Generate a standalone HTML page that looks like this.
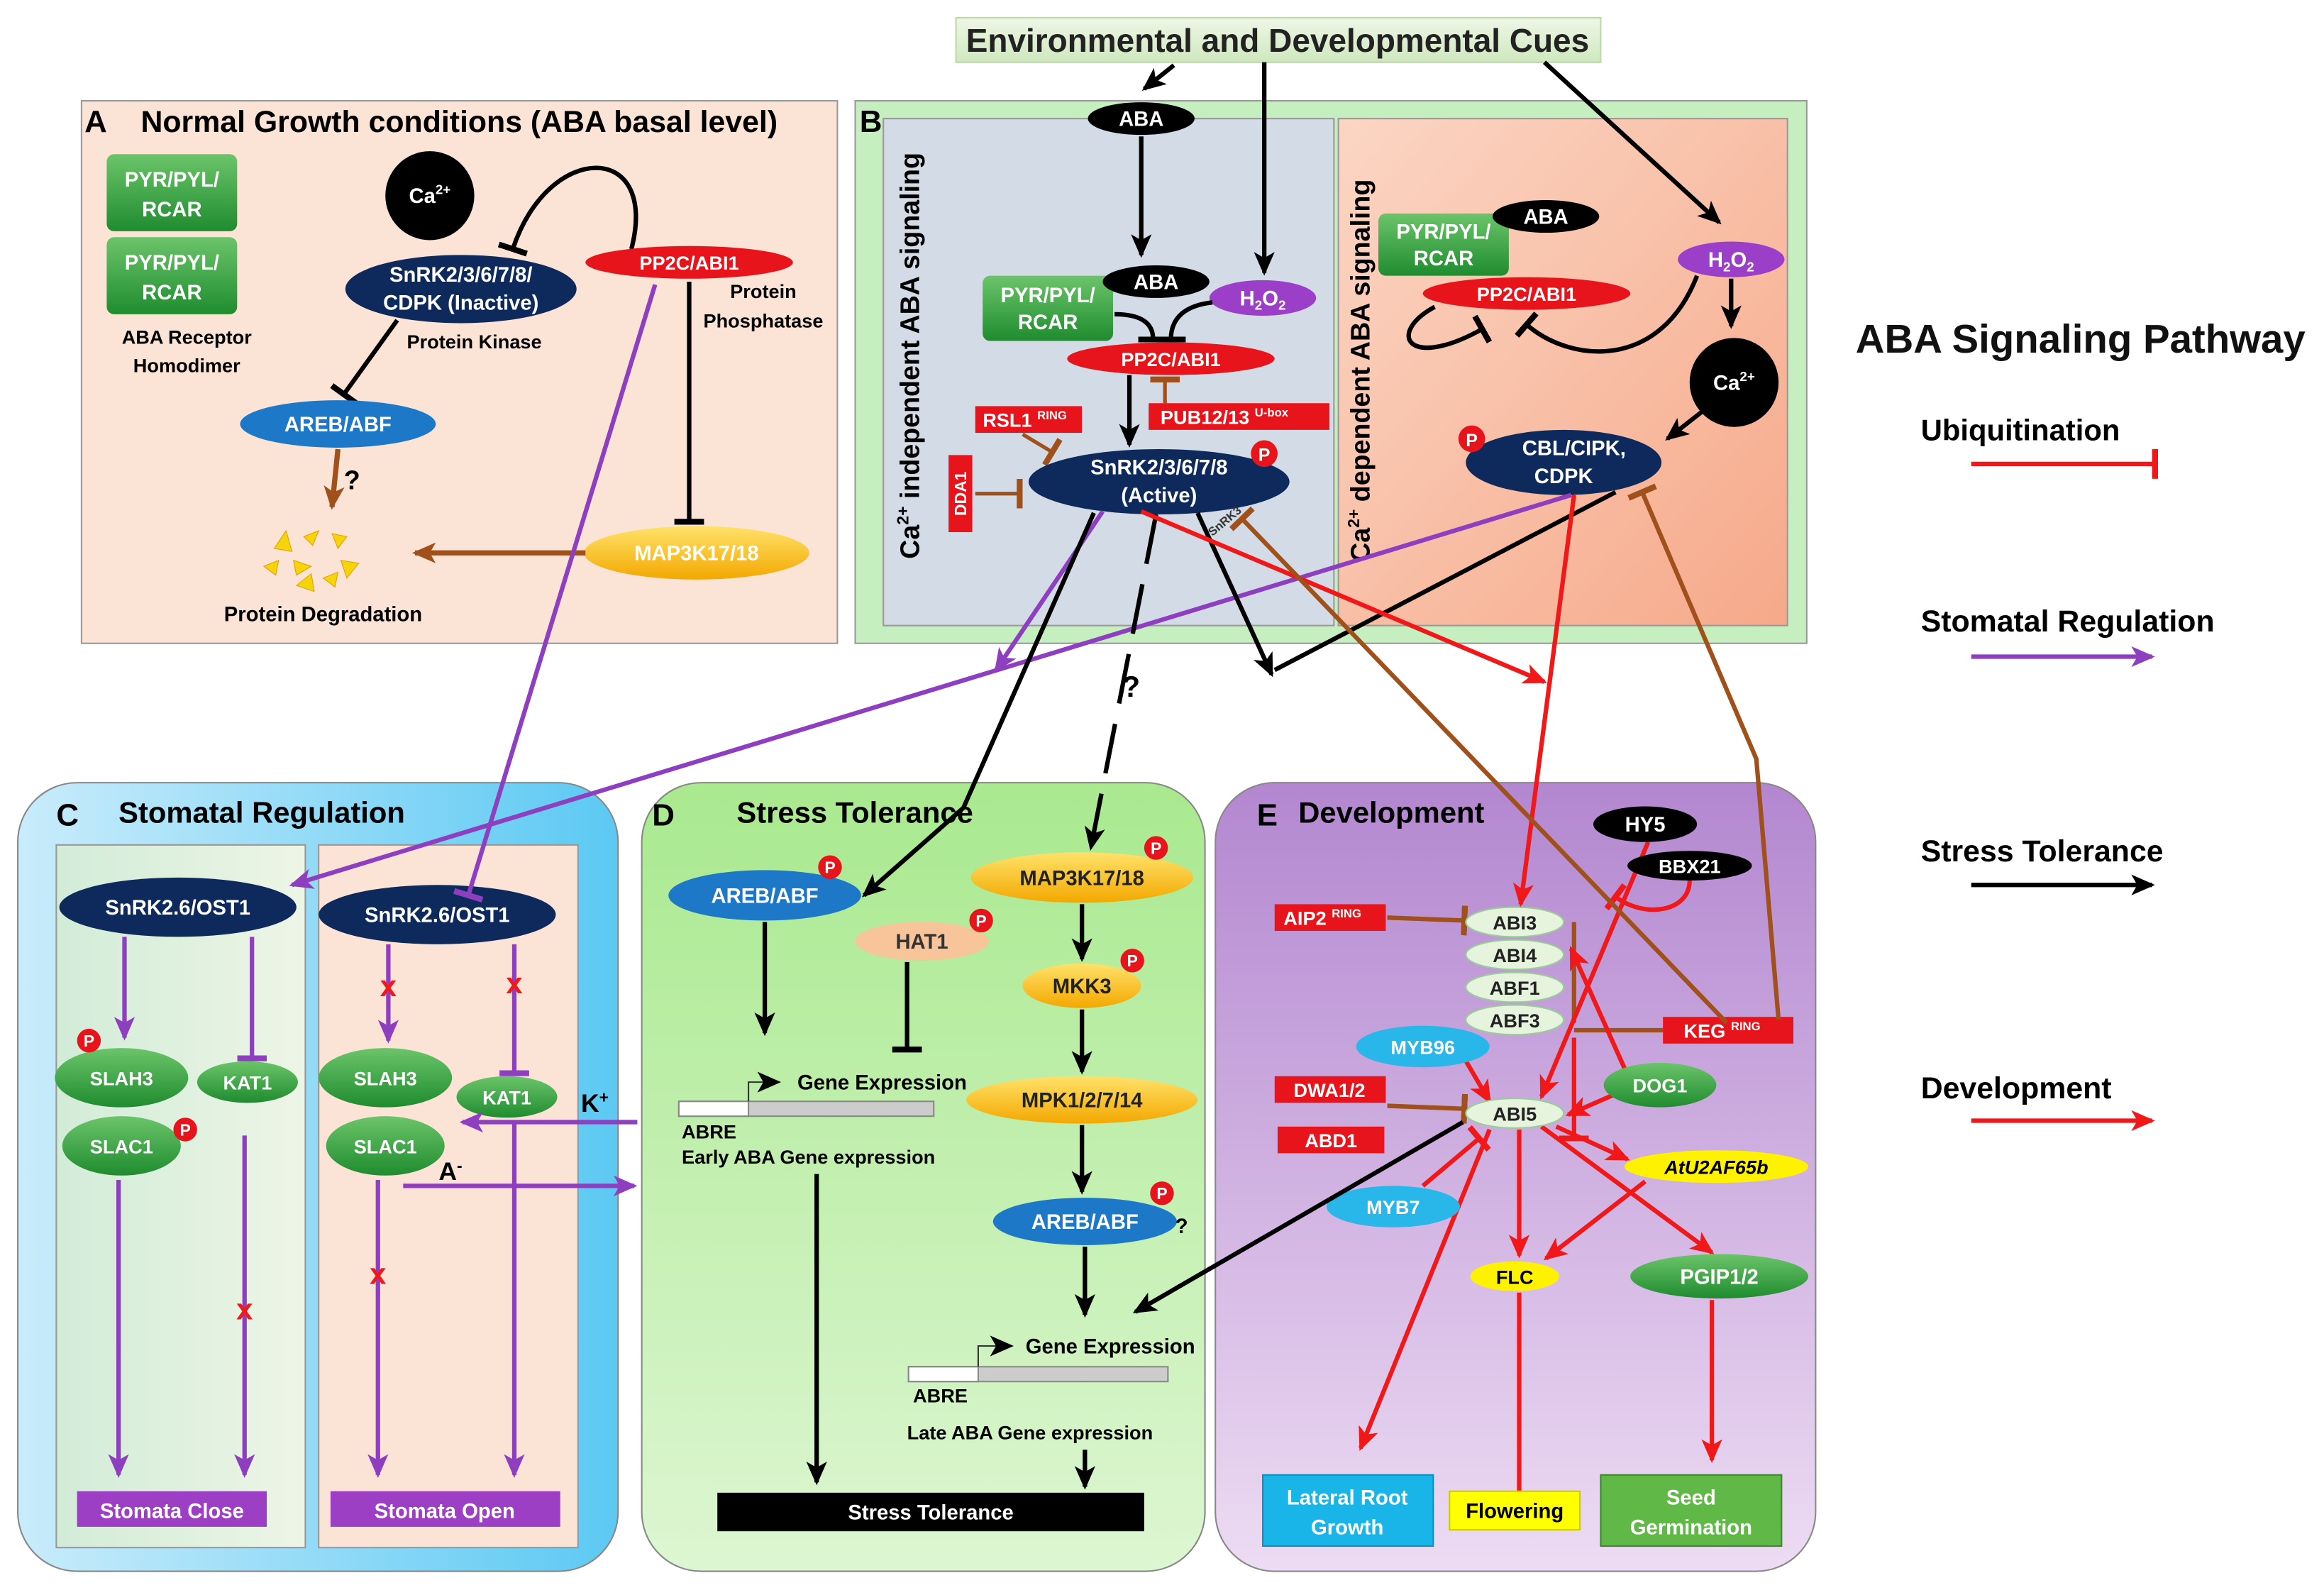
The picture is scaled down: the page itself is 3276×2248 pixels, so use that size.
<!DOCTYPE html>
<html><head><meta charset="utf-8"><style>
html,body{margin:0;padding:0;background:#fff}
svg{display:block}
text{font-family:"Liberation Sans",sans-serif;font-weight:bold}
</style></head><body>
<svg width="3276" height="2248" viewBox="0 0 1568 1076" preserveAspectRatio="none" xmlns="http://www.w3.org/2000/svg">
<defs>
<marker id="ak" markerUnits="userSpaceOnUse" markerWidth="16" markerHeight="14" refX="14" refY="7" orient="auto"><path d="M0,0 L16,7 L0,14 L4,7 z" fill="#000"/></marker>
<marker id="ar" markerUnits="userSpaceOnUse" markerWidth="16" markerHeight="14" refX="14" refY="7" orient="auto"><path d="M0,0 L16,7 L0,14 L4,7 z" fill="#f01818"/></marker>
<marker id="ap" markerUnits="userSpaceOnUse" markerWidth="16" markerHeight="14" refX="14" refY="7" orient="auto"><path d="M0,0 L16,7 L0,14 L4,7 z" fill="#8e3fc0"/></marker>
<marker id="ab" markerUnits="userSpaceOnUse" markerWidth="16" markerHeight="14" refX="14" refY="7" orient="auto"><path d="M0,0 L16,7 L0,14 L4,7 z" fill="#a0501a"/></marker>
<marker id="tk" markerUnits="userSpaceOnUse" markerWidth="4" markerHeight="20" refX="2" refY="10" orient="auto"><rect x="0" y="0" width="4" height="20" fill="#000"/></marker>
<marker id="tr" markerUnits="userSpaceOnUse" markerWidth="4" markerHeight="20" refX="2" refY="10" orient="auto"><rect x="0" y="0" width="4" height="20" fill="#f01818"/></marker>
<marker id="tp" markerUnits="userSpaceOnUse" markerWidth="4" markerHeight="20" refX="2" refY="10" orient="auto"><rect x="0" y="0" width="4" height="20" fill="#8e3fc0"/></marker>
<marker id="tb" markerUnits="userSpaceOnUse" markerWidth="4" markerHeight="20" refX="2" refY="10" orient="auto"><rect x="0" y="0" width="4" height="20" fill="#a0501a"/></marker>
<linearGradient id="gB" x1="0" y1="0" x2="1" y2="1"><stop offset="0" stop-color="#fbd6c4"/><stop offset="1" stop-color="#f6a98a"/></linearGradient>
<linearGradient id="gC" x1="0" y1="0" x2="1" y2="0"><stop offset="0" stop-color="#c9ecfb"/><stop offset="1" stop-color="#5cc9f3"/></linearGradient>
<linearGradient id="gCl" x1="0" y1="0" x2="1" y2="0"><stop offset="0" stop-color="#d2ecd8"/><stop offset="1" stop-color="#edf5e6"/></linearGradient>
<linearGradient id="gD" x1="0" y1="0" x2="0" y2="1"><stop offset="0" stop-color="#a9e98f"/><stop offset="1" stop-color="#ddf6d2"/></linearGradient>
<linearGradient id="gE" x1="0" y1="0" x2="0" y2="1"><stop offset="0" stop-color="#b387d0"/><stop offset="1" stop-color="#eddcf3"/></linearGradient>
<linearGradient id="gY" x1="0" y1="0" x2="0" y2="1"><stop offset="0" stop-color="#ffe26a"/><stop offset="1" stop-color="#f3a800"/></linearGradient>
<linearGradient id="gG" x1="0" y1="0" x2="0" y2="1"><stop offset="0" stop-color="#6cc46a"/><stop offset="1" stop-color="#1f8c2f"/></linearGradient>
<linearGradient id="gCue" x1="0" y1="0" x2="0" y2="1"><stop offset="0" stop-color="#eef7e6"/><stop offset="1" stop-color="#cfe8bf"/></linearGradient>
</defs>

<!-- Top cue -->
<rect x="645" y="12" width="435" height="30" fill="url(#gCue)" stroke="#bcd8a8"/>
<text x="862" y="35" font-size="22" text-anchor="middle" fill="#222">Environmental and Developmental Cues</text>

<!-- Panel A -->
<rect x="55" y="68" width="510" height="366" fill="#fbe3d6" stroke="#999"/>
<text x="57" y="89" font-size="21">A</text>
<text x="95" y="89" font-size="20.5">Normal Growth conditions (ABA basal level)</text>
<rect x="72" y="104" width="88" height="52" rx="5" fill="url(#gG)"/>
<text x="116" y="126" font-size="14" fill="#fff" text-anchor="middle">PYR/PYL/</text><text x="116" y="146" font-size="14" fill="#fff" text-anchor="middle">RCAR</text>
<rect x="72" y="160" width="88" height="52" rx="5" fill="url(#gG)"/>
<text x="116" y="182" font-size="14" fill="#fff" text-anchor="middle">PYR/PYL/</text><text x="116" y="202" font-size="14" fill="#fff" text-anchor="middle">RCAR</text>
<text x="126" y="232" font-size="13" text-anchor="middle">ABA Receptor</text><text x="126" y="251" font-size="13" text-anchor="middle">Homodimer</text>
<circle cx="290" cy="132" r="30" fill="#000"/><text x="290" y="137" font-size="14" fill="#fff" text-anchor="middle">Ca<tspan font-size="9" dy="-6">2+</tspan></text>
<path d="M426,168 C445,95 370,95 346,168" fill="none" stroke="#000" stroke-width="3" marker-end="url(#tk)"/>
<ellipse cx="311" cy="195" rx="78" ry="23" fill="#0e2a5c"/>
<text x="311" y="190" font-size="14" fill="#fff" text-anchor="middle">SnRK2/3/6/7/8/</text><text x="311" y="209" font-size="14" fill="#fff" text-anchor="middle">CDPK (Inactive)</text>
<text x="320" y="235" font-size="13" text-anchor="middle">Protein Kinase</text>
<ellipse cx="465" cy="177" rx="70" ry="11" fill="#e8141c"/><text x="465" y="182" font-size="13" fill="#fff" text-anchor="middle">PP2C/ABI1</text>
<text x="515" y="201" font-size="13" text-anchor="middle">Protein</text><text x="515" y="221" font-size="13" text-anchor="middle">Phosphatase</text>
<line x1="268" y1="216" x2="232" y2="266" stroke="#000" stroke-width="3" marker-end="url(#tk)"/>
<ellipse cx="228" cy="286" rx="66" ry="16" fill="#1d78c8"/><text x="228" y="291" font-size="14" fill="#fff" text-anchor="middle">AREB/ABF</text>
<line x1="228" y1="303" x2="224" y2="342" stroke="#a0501a" stroke-width="3.5" marker-end="url(#ab)"/>
<text x="232" y="330" font-size="18">?</text>
<g fill="#f6d40a" stroke="#e0a000" stroke-width="0.5">
<path d="M185,370 l8,-12 l4,14z"/><path d="M205,362 l10,-4 l-4,10z"/><path d="M224,360 l10,2 l-6,8z"/><path d="M178,382 l10,-4 l-2,10z"/><path d="M198,378 l12,4 l-10,6z"/><path d="M230,378 l12,2 l-8,10z"/><path d="M200,395 l10,-8 l2,12z"/><path d="M218,390 l10,-4 l-2,10z"/>
</g>
<text x="218" y="419" font-size="14" text-anchor="middle">Protein Degradation</text>
<line x1="465" y1="190" x2="465" y2="352" stroke="#000" stroke-width="3" marker-end="url(#tk)"/>
<ellipse cx="470" cy="373" rx="76" ry="18" fill="url(#gY)"/><text x="470" y="378" font-size="14" fill="#fff" text-anchor="middle">MAP3K17/18</text>
<line x1="395" y1="373" x2="280" y2="373" stroke="#a0501a" stroke-width="3.5" marker-end="url(#ab)"/>

<!-- Panel B -->
<rect x="577" y="68" width="642" height="366" fill="#c6efc0" stroke="#999"/>
<rect x="596" y="80" width="304" height="342" fill="#d3dce6" stroke="#999"/>
<rect x="903" y="80" width="303" height="342" fill="url(#gB)" stroke="#999"/>
<text x="580" y="89" font-size="21">B</text>
<line x1="792" y1="44" x2="772" y2="60" stroke="#000" stroke-width="3" marker-end="url(#ak)"/>
<line x1="853" y1="42" x2="853" y2="184" stroke="#000" stroke-width="3" marker-end="url(#ak)"/>
<line x1="1042" y1="42" x2="1160" y2="150" stroke="#000" stroke-width="3" marker-end="url(#ak)"/>
<ellipse cx="770" cy="80" rx="36" ry="11" fill="#000"/><text x="770" y="85" font-size="14" fill="#fff" text-anchor="middle">ABA</text>
<line x1="770" y1="92" x2="770" y2="172" stroke="#000" stroke-width="3" marker-end="url(#ak)"/>
<text transform="translate(620,240) rotate(-90)" font-size="18" text-anchor="middle">Ca<tspan font-size="11" dy="-7">2+</tspan><tspan dy="7"> independent ABA signaling</tspan></text>
<rect x="663" y="186" width="88" height="44" rx="5" fill="url(#gG)"/>
<text x="707" y="204" font-size="14" fill="#fff" text-anchor="middle">PYR/PYL/</text><text x="707" y="222" font-size="14" fill="#fff" text-anchor="middle">RCAR</text>
<ellipse cx="780" cy="190" rx="36" ry="11" fill="#000"/><text x="780" y="195" font-size="14" fill="#fff" text-anchor="middle">ABA</text>
<ellipse cx="852" cy="201" rx="36" ry="12" fill="#9b3fc8"/><text x="852" y="206" font-size="14" fill="#fff" text-anchor="middle">H<tspan font-size="9" dy="3">2</tspan><tspan dy="-3">O</tspan><tspan font-size="9" dy="3">2</tspan></text>
<path d="M752,212 C770,212 778,218 778,229" fill="none" stroke="#000" stroke-width="3" marker-end="url(#tk)"/>
<path d="M818,204 C800,206 790,214 790,229" fill="none" stroke="#000" stroke-width="3" marker-end="url(#tk)"/>
<ellipse cx="790" cy="242" rx="70" ry="11" fill="#e8141c"/><text x="790" y="247" font-size="13" fill="#fff" text-anchor="middle">PP2C/ABI1</text>
<rect x="658" y="274" width="72" height="18" fill="#e8141c"/><text x="663" y="288" font-size="13" fill="#fff">RSL1 <tspan font-size="8" dy="-5">RING</tspan></text>
<line x1="690" y1="293" x2="710" y2="305" stroke="#a0501a" stroke-width="2.5" marker-end="url(#tb)"/>
<rect x="775" y="272" width="122" height="18" fill="#e8141c"/><text x="783" y="286" font-size="13" fill="#fff">PUB12/13 <tspan font-size="8" dy="-5">U-box</tspan></text>
<line x1="786" y1="272" x2="786" y2="256" stroke="#a0501a" stroke-width="2.5" marker-end="url(#tb)"/>
<rect x="640" y="307" width="16" height="52" fill="#e8141c"/><text transform="translate(652,333) rotate(-90)" font-size="11" fill="#fff" text-anchor="middle">DDA1</text>
<line x1="658" y1="333" x2="688" y2="333" stroke="#a0501a" stroke-width="2.5" marker-end="url(#tb)"/>
<line x1="762" y1="253" x2="762" y2="300" stroke="#000" stroke-width="3" marker-end="url(#ak)"/>
<ellipse cx="782" cy="325" rx="88" ry="22" fill="#0e2a5c"/>
<text x="782" y="320" font-size="14" fill="#fff" text-anchor="middle">SnRK2/3/6/7/8</text><text x="782" y="339" font-size="14" fill="#fff" text-anchor="middle">(Active)</text>
<circle cx="853" cy="306" r="9" fill="#e8141c"/><text x="853" y="311" font-size="12" fill="#fff" text-anchor="middle">P</text>
<text transform="translate(924,250) rotate(-90)" font-size="18" text-anchor="middle">Ca<tspan font-size="11" dy="-7">2+</tspan><tspan dy="7"> dependent ABA signaling</tspan></text>
<rect x="930" y="144" width="88" height="42" rx="5" fill="url(#gG)"/>
<text x="974" y="161" font-size="14" fill="#fff" text-anchor="middle">PYR/PYL/</text><text x="974" y="179" font-size="14" fill="#fff" text-anchor="middle">RCAR</text>
<ellipse cx="1043" cy="146" rx="36" ry="11" fill="#000"/><text x="1043" y="151" font-size="14" fill="#fff" text-anchor="middle">ABA</text>
<ellipse cx="1030" cy="198" rx="70" ry="11" fill="#e8141c"/><text x="1030" y="203" font-size="13" fill="#fff" text-anchor="middle">PP2C/ABI1</text>
<ellipse cx="1168" cy="175" rx="36" ry="12" fill="#9b3fc8"/><text x="1168" y="180" font-size="14" fill="#fff" text-anchor="middle">H<tspan font-size="9" dy="3">2</tspan><tspan dy="-3">O</tspan><tspan font-size="9" dy="3">2</tspan></text>
<path d="M968,207 C935,225 950,250 1000,222" fill="none" stroke="#000" stroke-width="3" marker-end="url(#tk)"/>
<path d="M1145,186 C1120,250 1060,245 1030,219" fill="none" stroke="#000" stroke-width="3" marker-end="url(#tk)"/>
<line x1="1168" y1="188" x2="1168" y2="220" stroke="#000" stroke-width="3" marker-end="url(#ak)"/>
<circle cx="1170" cy="258" r="30" fill="#000"/><text x="1170" y="263" font-size="14" fill="#fff" text-anchor="middle">Ca<tspan font-size="9" dy="-6">2+</tspan></text>
<line x1="1148" y1="278" x2="1125" y2="296" stroke="#000" stroke-width="3" marker-end="url(#ak)"/>
<ellipse cx="1055" cy="312" rx="66" ry="22" fill="#0e2a5c"/>
<text x="1062" y="307" font-size="14" fill="#fff" text-anchor="middle">CBL/CIPK,</text><text x="1055" y="326" font-size="14" fill="#fff" text-anchor="middle">CDPK</text>
<circle cx="993" cy="296" r="9" fill="#e8141c"/><text x="993" y="301" font-size="12" fill="#fff" text-anchor="middle">P</text>

<!-- Panel C -->
<rect x="12" y="528" width="405" height="532" rx="40" fill="url(#gC)" stroke="#888"/>
<rect x="38" y="570" width="168" height="474" fill="url(#gCl)" stroke="#999"/>
<rect x="215" y="570" width="175" height="474" fill="#fbe3d6" stroke="#999"/>
<text x="38" y="557" font-size="21">C</text><text x="80" y="555" font-size="20">Stomatal Regulation</text>
<ellipse cx="120" cy="612" rx="80" ry="20" fill="#0e2a5c"/><text x="120" y="617" font-size="14" fill="#fff" text-anchor="middle">SnRK2.6/OST1</text>
<ellipse cx="295" cy="617" rx="80" ry="20" fill="#0e2a5c"/><text x="295" y="622" font-size="14" fill="#fff" text-anchor="middle">SnRK2.6/OST1</text>
<line x1="84" y1="632" x2="84" y2="700" stroke="#8e3fc0" stroke-width="3" marker-end="url(#ap)"/>
<line x1="170" y1="632" x2="170" y2="714" stroke="#8e3fc0" stroke-width="3" marker-end="url(#tp)"/>
<ellipse cx="82" cy="727" rx="45" ry="20" fill="url(#gG)"/><text x="82" y="732" font-size="13" fill="#fff" text-anchor="middle">SLAH3</text>
<circle cx="60" cy="702" r="8" fill="#e8141c"/><text x="60" y="706" font-size="11" fill="#fff" text-anchor="middle">P</text>
<ellipse cx="167" cy="730" rx="34" ry="14" fill="url(#gG)"/><text x="167" y="735" font-size="13" fill="#fff" text-anchor="middle">KAT1</text>
<ellipse cx="82" cy="773" rx="40" ry="20" fill="url(#gG)"/><text x="82" y="778" font-size="13" fill="#fff" text-anchor="middle">SLAC1</text>
<circle cx="125" cy="762" r="8" fill="#e8141c"/><text x="125" y="766" font-size="11" fill="#fff" text-anchor="middle">P</text>
<line x1="80" y1="796" x2="80" y2="995" stroke="#8e3fc0" stroke-width="3" marker-end="url(#ap)"/>
<line x1="165" y1="766" x2="165" y2="995" stroke="#8e3fc0" stroke-width="3" marker-end="url(#ap)"/>
<text x="165" y="890" font-size="20" fill="#f01818" text-anchor="middle">x</text>
<rect x="52" y="1006" width="128" height="24" fill="#9d3fc5"/><text x="116" y="1024" font-size="14" fill="#fff" text-anchor="middle">Stomata Close</text>
<line x1="262" y1="637" x2="262" y2="702" stroke="#8e3fc0" stroke-width="3" marker-end="url(#ap)"/>
<text x="262" y="672" font-size="20" fill="#f01818" text-anchor="middle">x</text>
<line x1="347" y1="637" x2="347" y2="724" stroke="#8e3fc0" stroke-width="3" marker-end="url(#tp)"/>
<text x="347" y="670" font-size="20" fill="#f01818" text-anchor="middle">x</text>
<ellipse cx="260" cy="727" rx="45" ry="20" fill="url(#gG)"/><text x="260" y="732" font-size="13" fill="#fff" text-anchor="middle">SLAH3</text>
<ellipse cx="342" cy="740" rx="34" ry="14" fill="url(#gG)"/><text x="342" y="745" font-size="13" fill="#fff" text-anchor="middle">KAT1</text>
<ellipse cx="260" cy="773" rx="40" ry="20" fill="url(#gG)"/><text x="260" y="778" font-size="13" fill="#fff" text-anchor="middle">SLAC1</text>
<line x1="430" y1="757" x2="312" y2="757" stroke="#8e3fc0" stroke-width="3" marker-end="url(#ap)"/>
<text x="392" y="750" font-size="17">K<tspan font-size="11" dy="-6">+</tspan></text>
<line x1="272" y1="800" x2="428" y2="800" stroke="#8e3fc0" stroke-width="3" marker-end="url(#ap)"/>
<text x="296" y="796" font-size="17">A<tspan font-size="11" dy="-6">-</tspan></text>
<line x1="255" y1="796" x2="255" y2="995" stroke="#8e3fc0" stroke-width="3" marker-end="url(#ap)"/>
<text x="255" y="866" font-size="20" fill="#f01818" text-anchor="middle">x</text>
<line x1="347" y1="756" x2="347" y2="995" stroke="#8e3fc0" stroke-width="3" marker-end="url(#ap)"/>
<rect x="223" y="1006" width="155" height="24" fill="#9d3fc5"/><text x="300" y="1024" font-size="14" fill="#fff" text-anchor="middle">Stomata Open</text>

<!-- Panel D -->
<rect x="433" y="528" width="380" height="532" rx="40" fill="url(#gD)" stroke="#888"/>
<text x="440" y="557" font-size="21">D</text><text x="497" y="555" font-size="20">Stress Tolerance</text>
<ellipse cx="516" cy="604" rx="65" ry="17" fill="#1d78c8"/><text x="516" y="609" font-size="14" fill="#fff" text-anchor="middle">AREB/ABF</text>
<circle cx="560" cy="585" r="8" fill="#e8141c"/><text x="560" y="589" font-size="11" fill="#fff" text-anchor="middle">P</text>
<line x1="516" y1="622" x2="516" y2="697" stroke="#000" stroke-width="3" marker-end="url(#ak)"/>
<ellipse cx="622" cy="635" rx="45" ry="13" fill="#f8c49a"/><text x="622" y="640" font-size="14" fill="#333" text-anchor="middle">HAT1</text>
<circle cx="662" cy="621" r="8" fill="#e8141c"/><text x="662" y="625" font-size="11" fill="#fff" text-anchor="middle">P</text>
<line x1="612" y1="649" x2="612" y2="708" stroke="#000" stroke-width="3" marker-end="url(#tk)"/>
<rect x="458" y="743" width="172" height="10" fill="#ccc" stroke="#888"/><rect x="458" y="743" width="47" height="10" fill="#fff" stroke="#888"/>
<path d="M505,743 V730 H525" fill="none" stroke="#333" stroke-width="1" marker-end="url(#ak)"/>
<text x="538" y="735" font-size="14">Gene Expression</text>
<text x="460" y="768" font-size="13">ABRE</text><text x="460" y="785" font-size="13">Early ABA Gene expression</text>
<line x1="551" y1="792" x2="551" y2="1000" stroke="#000" stroke-width="3" marker-end="url(#ak)"/>
<ellipse cx="730" cy="592" rx="75" ry="17" fill="url(#gY)"/><text x="730" y="597" font-size="14" text-anchor="middle" fill="#222">MAP3K17/18</text>
<circle cx="780" cy="572" r="8" fill="#e8141c"/><text x="780" y="576" font-size="11" fill="#fff" text-anchor="middle">P</text>
<line x1="730" y1="610" x2="730" y2="647" stroke="#000" stroke-width="3" marker-end="url(#ak)"/>
<ellipse cx="730" cy="665" rx="40" ry="15" fill="url(#gY)"/><text x="730" y="670" font-size="14" text-anchor="middle" fill="#222">MKK3</text>
<circle cx="764" cy="648" r="8" fill="#e8141c"/><text x="764" y="652" font-size="11" fill="#fff" text-anchor="middle">P</text>
<line x1="730" y1="681" x2="730" y2="723" stroke="#000" stroke-width="3" marker-end="url(#ak)"/>
<ellipse cx="730" cy="742" rx="78" ry="16" fill="url(#gY)"/><text x="730" y="747" font-size="14" text-anchor="middle" fill="#222">MPK1/2/7/14</text>
<line x1="730" y1="759" x2="730" y2="804" stroke="#000" stroke-width="3" marker-end="url(#ak)"/>
<ellipse cx="732" cy="824" rx="62" ry="16" fill="#1d78c8"/><text x="732" y="829" font-size="14" fill="#fff" text-anchor="middle">AREB/ABF</text>
<circle cx="784" cy="805" r="8" fill="#e8141c"/><text x="784" y="809" font-size="11" fill="#fff" text-anchor="middle">P</text>
<text x="793" y="832" font-size="14">?</text>
<line x1="732" y1="841" x2="732" y2="887" stroke="#000" stroke-width="3" marker-end="url(#ak)"/>
<rect x="613" y="922" width="175" height="10" fill="#ccc" stroke="#888"/><rect x="613" y="922" width="47" height="10" fill="#fff" stroke="#888"/>
<path d="M660,922 V908 H682" fill="none" stroke="#333" stroke-width="1" marker-end="url(#ak)"/>
<text x="692" y="913" font-size="14">Gene Expression</text>
<text x="616" y="946" font-size="13">ABRE</text><text x="612" y="971" font-size="13">Late ABA Gene expression</text>
<line x1="732" y1="978" x2="732" y2="1003" stroke="#000" stroke-width="3" marker-end="url(#ak)"/>
<rect x="484" y="1007" width="288" height="26" fill="#000"/><text x="628" y="1025" font-size="14" fill="#fff" text-anchor="middle">Stress Tolerance</text>

<!-- Panel E -->
<rect x="820" y="528" width="405" height="532" rx="40" fill="url(#gE)" stroke="#888"/>
<text x="848" y="557" font-size="21">E</text><text x="876" y="555" font-size="20">Development</text>
<line x1="1062" y1="622" x2="1062" y2="690" stroke="#a0501a" stroke-width="3"/>
<line x1="1062" y1="695" x2="1122" y2="695" stroke="#a0501a" stroke-width="3"/>
<line x1="936" y1="619" x2="988" y2="621" stroke="#a0501a" stroke-width="3" marker-end="url(#tb)"/>
<line x1="936" y1="746" x2="988" y2="748" stroke="#a0501a" stroke-width="3" marker-end="url(#tb)"/>
<line x1="1112" y1="568" x2="1040" y2="740" stroke="#f01818" stroke-width="3" marker-end="url(#ar)"/>
<path d="M1140,594 C1140,615 1110,620 1090,605" fill="none" stroke="#f01818" stroke-width="3" marker-end="url(#tr)"/>
<line x1="1098" y1="725" x2="1060" y2="640" stroke="#f01818" stroke-width="3" marker-end="url(#ar)"/>
<line x1="1090" y1="738" x2="1058" y2="752" stroke="#f01818" stroke-width="3" marker-end="url(#ar)"/>
<line x1="988" y1="714" x2="1005" y2="743" stroke="#f01818" stroke-width="3" marker-end="url(#ar)"/>
<line x1="960" y1="800" x2="998" y2="768" stroke="#f01818" stroke-width="3" marker-end="url(#tr)"/>
<line x1="1062" y1="700" x2="1062" y2="768" stroke="#f01818" stroke-width="3" marker-end="url(#tr)"/>
<line x1="1050" y1="760" x2="1098" y2="782" stroke="#f01818" stroke-width="3" marker-end="url(#ar)"/>
<line x1="1005" y1="762" x2="918" y2="977" stroke="#f01818" stroke-width="3" marker-end="url(#ar)"/>
<line x1="1025" y1="762" x2="1025" y2="847" stroke="#f01818" stroke-width="3" marker-end="url(#ar)"/>
<line x1="1040" y1="760" x2="1155" y2="845" stroke="#f01818" stroke-width="3" marker-end="url(#ar)"/>
<line x1="1110" y1="797" x2="1043" y2="849" stroke="#f01818" stroke-width="3" marker-end="url(#ar)"/>
<line x1="1025" y1="872" x2="1025" y2="1015" stroke="#f01818" stroke-width="3" marker-end="url(#tr)"/>
<line x1="1155" y1="877" x2="1155" y2="985" stroke="#f01818" stroke-width="3" marker-end="url(#ar)"/>
<ellipse cx="1110" cy="556" rx="35" ry="12" fill="#000"/><text x="1110" y="561" font-size="14" fill="#fff" text-anchor="middle">HY5</text>
<ellipse cx="1140" cy="584" rx="42" ry="10" fill="#000"/><text x="1140" y="589" font-size="13" fill="#fff" text-anchor="middle">BBX21</text>
<rect x="860" y="610" width="75" height="18" fill="#e8141c"/><text x="866" y="624" font-size="13" fill="#fff">AIP2 <tspan font-size="8" dy="-5">RING</tspan></text>
<g font-size="13" text-anchor="middle" fill="#222">
<ellipse cx="1022" cy="622" rx="33" ry="10" fill="#e6f4de" stroke="#9c9"/><text x="1022" y="627">ABI3</text>
<ellipse cx="1022" cy="644" rx="33" ry="10" fill="#e6f4de" stroke="#9c9"/><text x="1022" y="649">ABI4</text>
<ellipse cx="1022" cy="666" rx="33" ry="10" fill="#e6f4de" stroke="#9c9"/><text x="1022" y="671">ABF1</text>
<ellipse cx="1022" cy="688" rx="33" ry="10" fill="#e6f4de" stroke="#9c9"/><text x="1022" y="693">ABF3</text>
<ellipse cx="1022" cy="751" rx="33" ry="10" fill="#e6f4de" stroke="#9c9"/><text x="1022" y="756">ABI5</text>
</g>
<rect x="1122" y="686" width="88" height="18" fill="#e8141c"/><text x="1136" y="700" font-size="13" fill="#fff">KEG <tspan font-size="8" dy="-5">RING</tspan></text>
<ellipse cx="960" cy="706" rx="45" ry="14" fill="#29b6e8"/><text x="960" y="711" font-size="13" fill="#fff" text-anchor="middle">MYB96</text>
<ellipse cx="1120" cy="732" rx="38" ry="15" fill="url(#gG)"/><text x="1120" y="737" font-size="13" fill="#fff" text-anchor="middle">DOG1</text>
<rect x="860" y="726" width="75" height="18" fill="#e8141c"/><text x="897" y="740" font-size="13" fill="#fff" text-anchor="middle">DWA1/2</text>
<rect x="862" y="760" width="72" height="18" fill="#e8141c"/><text x="898" y="774" font-size="13" fill="#fff" text-anchor="middle">ABD1</text>
<ellipse cx="1158" cy="787" rx="62" ry="11" fill="#fff200"/><text x="1158" y="792" font-size="13" font-style="italic" text-anchor="middle">AtU2AF65b</text>
<ellipse cx="940" cy="814" rx="45" ry="14" fill="#29b6e8"/><text x="940" y="819" font-size="13" fill="#fff" text-anchor="middle">MYB7</text>
<ellipse cx="1022" cy="861" rx="30" ry="10" fill="#fff200"/><text x="1022" y="866" font-size="13" text-anchor="middle">FLC</text>
<ellipse cx="1160" cy="861" rx="60" ry="15" fill="url(#gG)"/><text x="1160" y="866" font-size="14" fill="#fff" text-anchor="middle">PGIP1/2</text>
<rect x="852" y="995" width="115" height="48" fill="#19b5e8" stroke="#0a8fc0"/><text x="909" y="1015" font-size="14" fill="#fff" text-anchor="middle">Lateral Root</text><text x="909" y="1035" font-size="14" fill="#fff" text-anchor="middle">Growth</text>
<rect x="978" y="1006" width="88" height="26" fill="#ffff00" stroke="#cc0"/><text x="1022" y="1024" font-size="14" text-anchor="middle">Flowering</text>
<rect x="1080" y="995" width="122" height="48" fill="#60b946" stroke="#3a8a2a"/><text x="1141" y="1015" font-size="14" fill="#fff" text-anchor="middle">Seed</text><text x="1141" y="1035" font-size="14" fill="#fff" text-anchor="middle">Germination</text>

<!-- Cross-panel connectors -->
<line x1="442" y1="192" x2="316" y2="604" stroke="#8e3fc0" stroke-width="3" marker-end="url(#tp)"/>
<line x1="1060" y1="334" x2="197" y2="597" stroke="#8e3fc0" stroke-width="3" marker-end="url(#ap)"/>
<line x1="744" y1="345" x2="672" y2="452" stroke="#8e3fc0" stroke-width="3" marker-end="url(#ap)"/>
<polyline points="738,346 650,545 583,604" fill="none" stroke="#000" stroke-width="3" marker-end="url(#ak)"/>
<line x1="780" y1="347" x2="736" y2="572" stroke="#000" stroke-width="3" stroke-dasharray="34,14" marker-end="url(#ak)"/>
<text x="757" y="470" font-size="20">?</text>
<line x1="808" y1="346" x2="858" y2="455" stroke="#000" stroke-width="3" marker-end="url(#ak)"/>
<line x1="1090" y1="332" x2="860" y2="452" stroke="#000" stroke-width="3"/>
<line x1="987" y1="757" x2="766" y2="885" stroke="#000" stroke-width="3" marker-end="url(#ak)"/>
<line x1="770" y1="345" x2="1042" y2="460" stroke="#f01818" stroke-width="3" marker-end="url(#ar)"/>
<line x1="1062" y1="334" x2="1026" y2="610" stroke="#f01818" stroke-width="3" marker-end="url(#ar)"/>
<line x1="1165" y1="690" x2="838" y2="350" stroke="#a0501a" stroke-width="3" marker-end="url(#tb)"/>
<text transform="translate(818,362) rotate(-40)" font-size="8" fill="#333">SnRK3</text>
<polyline points="1200,688 1185,512 1108,332" fill="none" stroke="#a0501a" stroke-width="3" marker-end="url(#tb)"/>

<!-- Legend -->
<text x="1252" y="238" font-size="27" fill="#111">ABA Signaling Pathway</text>
<text x="1296" y="297" font-size="20">Ubiquitination</text>
<line x1="1330" y1="313" x2="1454" y2="313" stroke="#f01818" stroke-width="3" marker-end="url(#tr)"/>
<text x="1296" y="426" font-size="20.5">Stomatal Regulation</text>
<line x1="1330" y1="443" x2="1452" y2="443" stroke="#8e3fc0" stroke-width="3" marker-end="url(#ap)"/>
<text x="1296" y="581" font-size="20.5">Stress Tolerance</text>
<line x1="1330" y1="597" x2="1452" y2="597" stroke="#000" stroke-width="3" marker-end="url(#ak)"/>
<text x="1296" y="741" font-size="20.5">Development</text>
<line x1="1330" y1="756" x2="1452" y2="756" stroke="#f01818" stroke-width="3" marker-end="url(#ar)"/>
</svg>
</body></html>
